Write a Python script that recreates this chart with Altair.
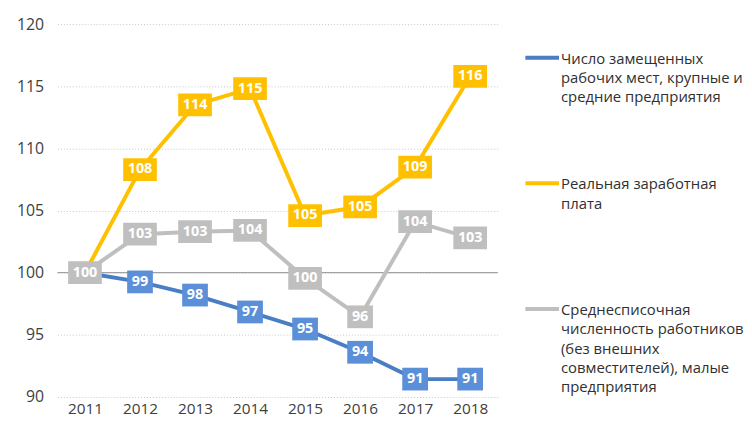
import altair as alt
import pandas as pd

FONT = "Open Sans"

years = ["2011", "2012", "2013", "2014", "2015", "2016", "2017", "2018"]

series_names = [
    "Число замещенных рабочих мест, крупные и средние предприятия",
    "Реальная заработная плата",
    "Среднесписочная численность работников (без внешних совместителей), малые предприятия",
]
legend_texts = [
    "Число замещенных\nрабочих мест, крупные и\nсредние предприятия",
    "Реальная заработная\nплата",
    "Среднесписочная\nчисленность работников\n(без внешних\nсовместителей), малые\nпредприятия",
]

blue_values = [100, 99.26, 98.2, 96.84, 95.47, 93.6, 91.44, 91.44]
blue_labels = ["", "99", "98", "97", "95", "94", "91", "91"]

yellow_values = [100, 108.3, 113.5, 114.8, 104.6, 105.3, 108.5, 115.8]
yellow_labels = ["", "108", "114", "115", "105", "105", "109", "116"]

grey_values = [100, 103.1, 103.3, 103.4, 99.55, 96.45, 104.1, 102.8]
grey_labels = ["100", "103", "103", "104", "100", "96", "104", "103"]

reference_value = [100]
y_ticks = [90, 95, 100, 105, 110, 115, 120]

line_colors = ["#4A7EC4", "#FFC000", "#BFBFBF"]
box_colors = ["#5B8FD8", "#FFC000", "#BFBFBF"]

rows = []
for si, (name, vals, labs) in enumerate(zip(series_names,
                                            [blue_values, yellow_values, grey_values],
                                            [blue_labels, yellow_labels, grey_labels])):
    for yr, v, lab in zip(years, vals, labs):
        rows.append(dict(year=yr, series=name, order=si, value=v, label=lab,
                         digits=str(len(lab))))
df = pd.DataFrame(rows)
df_lab = df[df["label"] != ""]

box3 = "M-1.48,-1L1.48,-1L1.48,1L-1.48,1Z"
box2 = "M-1.13,-1L1.13,-1L1.13,1L-1.13,1Z"

x_enc = alt.X("year:O", sort=years, title=None,
              scale=alt.Scale(type="point", padding=0.5),
              axis=alt.Axis(labelAngle=0, ticks=False, domain=False, grid=False,
                            labelFontSize=15.5, labelColor="#404040", labelFont=FONT,
                            labelPadding=5))
y_enc = alt.Y("value:Q", title=None,
              scale=alt.Scale(domain=[90, 120], nice=False, zero=False),
              axis=alt.Axis(values=y_ticks, ticks=False, domain=False, grid=True,
                            gridDash=[1, 2], gridColor="#C8C8C8", gridWidth=1,
                            labelFontSize=16, labelColor="#404040", labelFont=FONT,
                            labelPadding=14, minExtent=39, maxExtent=39))

base_rule = alt.Chart(pd.DataFrame({"value": reference_value})).mark_rule(
    color="#8C8C8C", strokeWidth=1).encode(y=alt.Y("value:Q"))

lines = alt.Chart(df).mark_line(strokeWidth=4).encode(
    x=x_enc, y=y_enc,
    color=alt.Color("series:N", scale=alt.Scale(domain=series_names, range=line_colors),
                    legend=None),
)

boxes = alt.Chart(df_lab).mark_point(filled=True, opacity=1, strokeWidth=0, size=529).encode(
    x=x_enc, y=y_enc,
    fill=alt.Fill("series:N", scale=alt.Scale(domain=series_names, range=box_colors),
                  legend=None),
    shape=alt.Shape("digits:N", scale=alt.Scale(domain=["2", "3"], range=[box2, box3]),
                    legend=None),
    order=alt.Order("order:Q"),
)

texts = alt.Chart(df_lab).mark_text(color="white", fontWeight="bold", fontSize=14.5,
                                    font=FONT, baseline="middle", dy=0).encode(
    x=x_enc, y=y_enc, text="label:N", order=alt.Order("order:Q"))

main = alt.layer(base_rule, lines, boxes, texts).properties(width=445, height=377)

legend_df = pd.DataFrame({"series": series_names, "text": legend_texts})
legend_base = alt.Chart(legend_df).encode(
    y=alt.Y("series:N", sort=series_names, axis=None,
            scale=alt.Scale(type="point", padding=0.291)))
legend_rules = legend_base.mark_rule(strokeWidth=4, yOffset=-3).encode(
    x=alt.value(0), x2=alt.value(34),
    color=alt.Color("series:N", scale=alt.Scale(domain=series_names, range=line_colors),
                    legend=None))
legend_text = legend_base.mark_text(align="left", baseline="top", dy=-9, lineBreak="\n",
                                    lineHeight=19.5, fontSize=15, font=FONT,
                                    color="#303030").encode(
    x=alt.value(36), text="text:N")
legend = alt.layer(legend_rules, legend_text).properties(width=180, height=328)

chart = alt.hconcat(main, legend, spacing=25).properties(
    padding={"left": 8, "top": 6, "right": 0, "bottom": 0}
).configure(font=FONT).configure_view(stroke=None)

chart.save("out.html", embed_options={"renderer": "svg", "actions": False})
